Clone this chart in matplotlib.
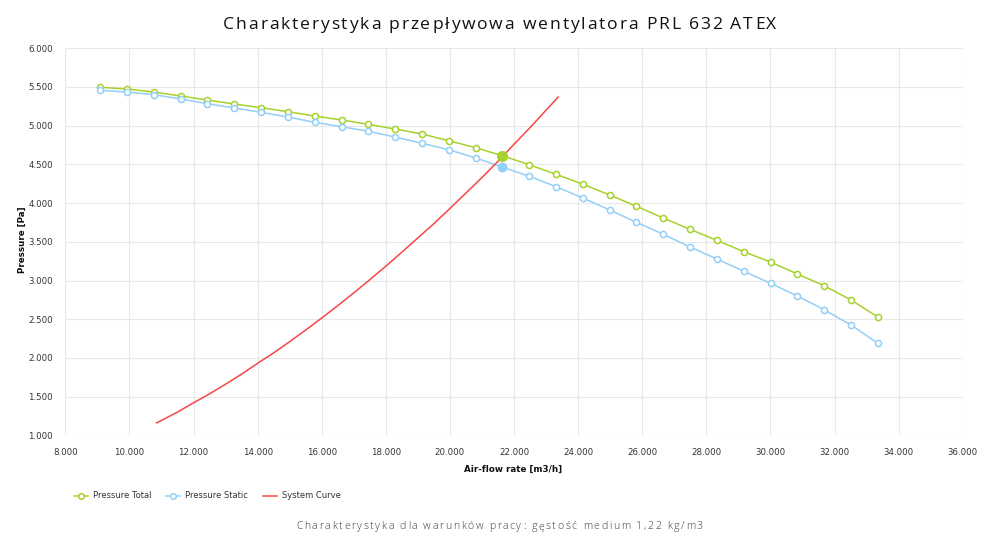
import matplotlib
matplotlib.use("Agg")
import matplotlib.pyplot as plt
from matplotlib.lines import Line2D
from matplotlib.ticker import MultipleLocator, FuncFormatter
from matplotlib.font_manager import FontProperties, findfont, get_font

# dane
przeplyw = [9090, 9925, 10760, 11600, 12435, 13270, 14110, 14945, 15780, 16620,
            17455, 18290, 19130, 19965, 20800, 21640, 22475, 23310, 24150, 24985,
            25820, 26660, 27495, 28330, 29170, 30005, 30840, 31675, 32515, 33350]
cisnienie_calk = [5496, 5474, 5435, 5384, 5332, 5280, 5233, 5181, 5125, 5074,
                  5018, 4957, 4893, 4806, 4716, 4612, 4496, 4372, 4243, 4105,
                  3959, 3807, 3661, 3519, 3372, 3239, 3084, 2933, 2748, 2528]
cisnienie_stat = [5457, 5435, 5401, 5345, 5284, 5229, 5173, 5112, 5044, 4987,
                  4928, 4854, 4773, 4690, 4583, 4466, 4346, 4212, 4066, 3911,
                  3752, 3597, 3433, 3278, 3119, 2964, 2800, 2623, 2425, 2189]

# krzywa instalacji
q_inst = [10850, 11500, 12000, 12500, 13000, 13500, 14000, 14500, 15000, 15500,
          16000, 16500, 17000, 17500, 18000, 18500, 19000, 19500, 20000, 20500,
          21000, 21500, 22000, 22500, 23000, 23380]
p_inst = [1160, 1300, 1420, 1535, 1660, 1790, 1930, 2065, 2210, 2360,
          2515, 2675, 2840, 3010, 3185, 3365, 3550, 3735, 3930, 4130,
          4330, 4540, 4760, 4975, 5200, 5370]

# punkt pracy
q_pracy = 21640
p_pracy_calk = 4612
p_pracy_stat = 4466

ZIELONY = "#a6d22b"
NIEBIESKI = "#93cff7"
CZERWONY = "#f84646"

fig = plt.figure(figsize=(10, 5.41), dpi=100)
W, H = 1000, 541
ax = fig.add_axes([65.3 / W, 1 - 435.3 / H, 897.4 / W, 387.0 / H])

ax.plot(przeplyw, cisnienie_calk, color=ZIELONY, lw=1.1, marker="o", ms=4.4,
        mfc="white", mec=ZIELONY, mew=1.1, zorder=3)
ax.plot(przeplyw, cisnienie_stat, color=NIEBIESKI, lw=1.1, marker="o", ms=4.4,
        mfc="white", mec=NIEBIESKI, mew=1.1, zorder=3)
ax.plot(q_inst, p_inst, color=CZERWONY, lw=1.1, zorder=4)
ax.plot([q_pracy], [p_pracy_calk], "o", color=ZIELONY, ms=7, zorder=5)
ax.plot([q_pracy], [p_pracy_stat], "o", color=NIEBIESKI, ms=6.2, zorder=5)

ax.set_xlim(8000, 36000)
ax.set_ylim(1000, 6000)
ax.xaxis.set_major_locator(MultipleLocator(2000))
ax.yaxis.set_major_locator(MultipleLocator(500))
fmt = FuncFormatter(lambda v, p: f"{v:,.0f}".replace(",", "."))
ax.xaxis.set_major_formatter(fmt)
ax.yaxis.set_major_formatter(fmt)
ax.tick_params(length=0, labelsize=6.2, labelcolor="#333333")
ax.tick_params(axis="x", pad=9)
ax.tick_params(axis="y", pad=9)
ax.grid(True, color="#e8e8e8", lw=0.8)
ax.set_axisbelow(True)
for s in ax.spines.values():
    s.set_visible(False)

fig.text(513 / W, 1 - 469 / H, "Air-flow rate [m3/h]", ha="center", va="center",
         fontsize=6.3, fontweight="bold", color="#111111")
fig.text(22.7 / W, 1 - 240 / H, "Pressure [Pa]", ha="center", va="center",
         rotation=90, fontsize=6.3, fontweight="bold", color="#111111")

# legenda
uchwyty = [
    Line2D([], [], color=ZIELONY, lw=1.1, marker="o", ms=4.0, mfc="white", mec=ZIELONY, mew=1.1),
    Line2D([], [], color=NIEBIESKI, lw=1.1, marker="o", ms=4.0, mfc="white", mec=NIEBIESKI, mew=1.1),
    Line2D([], [], color=CZERWONY, lw=1.1),
]
fig.legend(uchwyty, ["Pressure Total", "Pressure Static", "System Curve"],
           loc="center left", bbox_to_anchor=(66 / W, 1 - 496 / H), ncol=3,
           frameon=False, fontsize=6.0, handlelength=1.7, handletextpad=0.6,
           columnspacing=1.8, labelcolor="#333333")


# tekst z rozstrzelonymi literami (letter-spacing jak w oryginale)
def tekst_rozstrzelony(s, x0, x1, y, size, color, weight="normal"):
    prop = FontProperties(family="Open Sans", size=size, weight=weight)
    font = get_font(findfont(prop))
    font.set_size(size, fig.dpi)
    adv = [font.load_char(ord(ch)).linearHoriAdvance / 65536 for ch in s]
    odstep = (x1 - x0 - sum(adv[:-1]) - adv[-1] * 0.85) / (len(s) - 1)
    x = x0
    for ch, a in zip(s, adv):
        if ch != " ":
            fig.text(x / W, 1 - y / H, ch, fontproperties=prop, color=color,
                     ha="left", va="baseline")
        x += a + odstep


tekst_rozstrzelony("Charakterystyka przepływowa wentylatora PRL 632 ATEX",
                   223, 775, 29, 12.6, "#111111")
tekst_rozstrzelony("Charakterystyka dla warunków pracy: gęstość medium 1,22 kg/m3",
                   296, 702, 529, 7.6, "#3a3a3a", weight="light")

fig.savefig("out.png", dpi=100)
